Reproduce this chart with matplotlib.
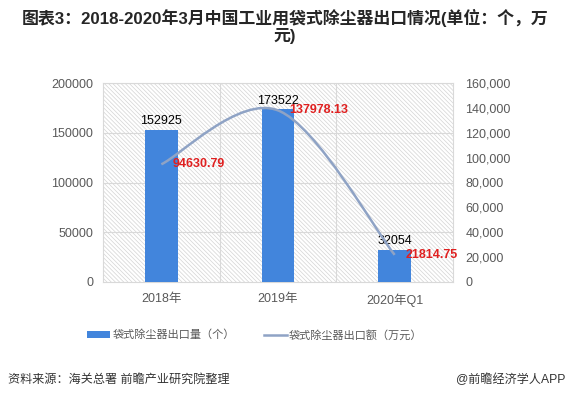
import matplotlib
matplotlib.use("Agg")
import matplotlib.pyplot as plt
import numpy as np
from matplotlib.path import Path
from matplotlib.patches import PathPatch, Rectangle, Patch
from matplotlib.lines import Line2D
from matplotlib.ticker import FuncFormatter

plt.rcParams['font.family'] = ['Liberation Sans', 'Noto Sans CJK SC', 'DejaVu Sans']
plt.rcParams['hatch.linewidth'] = 0.5

# data
years = ['2018年', '2019年', '2020年Q1']
qty = [152925, 173522, 32054]             # 出口量（个）
amount = [94630.79, 137978.13, 21814.75]  # 出口额（万元）
qty_label = '袋式除尘器出口量（个）'
amount_label = '袋式除尘器出口额（万元）'
title = '图表3：2018-2020年3月中国工业用袋式除尘器出口情况(单位：个，万\n元)'
source = '资料来源：海关总署 前瞻产业研究院整理'
brand = '@前瞻经济学人APP'

bar_color = '#4285DC'
line_color = '#8FA3C5'
grey = '#595959'

fig = plt.figure(figsize=(5.7, 3.99), dpi=100)
ax = fig.add_axes([103/570, 1-282/399, 350/570, 199/399])

# hatched background
bg = Rectangle((0, 0), 1, 1, transform=ax.transAxes, facecolor='white',
               edgecolor='#d4d4d4', hatch='\\' * 8, linewidth=0, zorder=0)
ax.add_patch(bg)

x = np.arange(len(years))
bars = ax.bar(x, qty, width=0.28, color=bar_color, zorder=3)
ax.bar_label(bars, labels=[str(v) for v in qty], padding=2, fontsize=9, color='black')

ax.set_xlim(-0.5, 2.5)
ax.set_ylim(0, 200000)
ax.set_yticks(np.arange(0, 200001, 50000))
ax.set_xticks(x)
ax.set_xticklabels(years)
for yv in np.arange(50000, 200001, 50000):
    ax.axhline(yv, color='#d9d9d9', lw=0.8, zorder=1)
for xv in [0.5, 1.5]:
    ax.axvline(xv, color='#d9d9d9', lw=0.8, zorder=1)
for s in ax.spines.values():
    s.set_color('#d9d9d9')
    s.set_linewidth(0.8)
ax.tick_params(length=0, labelsize=9, colors=grey)
ax.tick_params(axis='y', pad=7)
ax.tick_params(axis='x', pad=8)

ax2 = ax.twinx()
ax2.set_ylim(0, 160000)
ax2.set_yticks(np.arange(0, 160001, 20000))
ax2.yaxis.set_major_formatter(FuncFormatter(lambda v, p: f'{int(v):,}'))
ax2.tick_params(length=0, labelsize=9, colors=grey, pad=9)
for s in ax2.spines.values():
    s.set_visible(False)

# smoothed line (bezier through the data points)
pts = np.column_stack([x, amount]).astype(float)
ext = np.vstack([pts[0], pts, pts[-1]])
verts = [tuple(pts[0])]
codes = [Path.MOVETO]
for i in range(len(pts) - 1):
    p0, p1, p2, p3 = ext[i], ext[i+1], ext[i+2], ext[i+3]
    c1 = p1 + (p2 - p0) / 6
    c2 = p2 - (p3 - p1) / 6
    verts += [tuple(c1), tuple(c2), tuple(p2)]
    codes += [Path.CURVE4] * 3
ax2.add_patch(PathPatch(Path(verts, codes), facecolor='none', edgecolor=line_color,
                        lw=1.8, zorder=4))
for xi, v in zip(x, amount):
    ax2.annotate(f'{v:.2f}', (xi, v), xytext=(11, 0), textcoords='offset pixels',
                 ha='left', va='center', fontsize=9, fontweight='bold', color='#E02020',
                 zorder=5)

fig.text(0.5, 1-9/399, title, ha='center', va='top', fontsize=12.2,
         fontweight='bold', color='#262626', linespacing=1.1)

handles = [Patch(facecolor=bar_color, edgecolor='none'),
           Line2D([0], [0], color=line_color, lw=1.8)]
fig.legend(handles, [qty_label, amount_label], loc='center',
           bbox_to_anchor=(0.447, 1-335/399), ncol=2, frameon=False,
           fontsize=8, labelcolor=grey, handlelength=2.1, handletextpad=0.2,
           columnspacing=2.6)

fig.text(8/570, 1-380/399, source, ha='left', va='center', fontsize=8.7, color='#333333')
fig.text(565/570, 1-380/399, brand, ha='right', va='center', fontsize=8.7, color='#333333')

fig.savefig('out.png', dpi=100)
